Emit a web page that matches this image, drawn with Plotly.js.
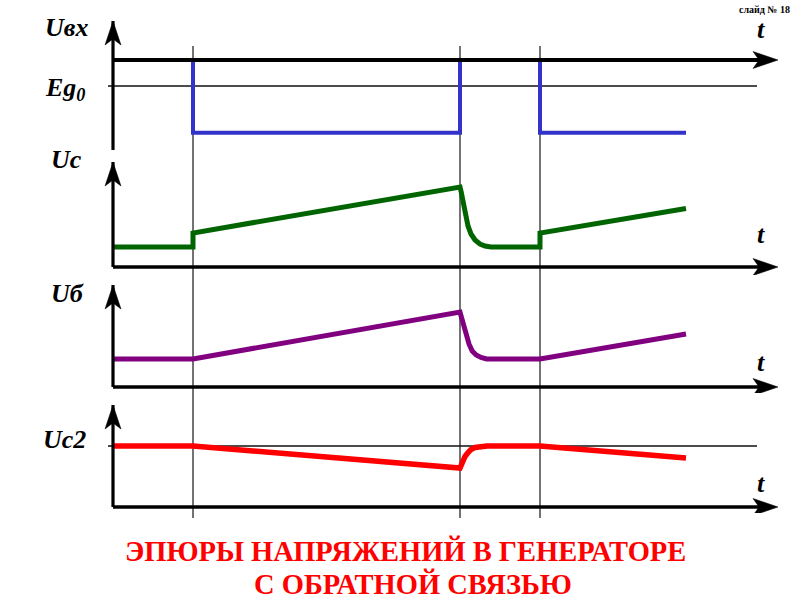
<!DOCTYPE html>
<html>
<head>
<meta charset="utf-8">
<script src="https://cdn.plot.ly/plotly-3.0.1.min.js"></script>
<style>
html,body{margin:0;padding:0;background:#fff;}
#chart{width:800px;height:600px;}
#chart text, #chart tspan { font-family: 'Liberation Serif' !important; }
</style>
</head>
<body>
<div id="chart"></div>
<script>
// ---- Data (time in arbitrary units, voltages in arbitrary units) ----
const edgeTimes = [2, 8.675, 10.675];
const tAxisEnd = 16.625;

// Input voltage Uвх (relative to t-axis level 0)
const tIn = [0, 2, 2, 8.675, 8.675, 10.675, 10.675, 14.325];
const uIn = [0, 0, -2.8, -2.8, 0, 0, -2.8, -2.8];
const eg0Level = -1.0;

// Uc (green)
const tUc = [0, 2, 2, 8.675, 8.7, 8.75, 8.8, 8.875, 8.95, 9.05, 9.175, 9.3, 9.45, 10.675, 10.675, 14.325];
const uC  = [2.0, 2.0, 3.4, 8.0, 7.6, 6.4, 5.2, 4.1, 3.3, 2.7, 2.3, 2.1, 2.0, 2.0, 3.4, 5.85];

// Uб (purple)
const tUb = [0, 2, 8.675, 8.72, 8.77, 8.83, 8.9, 8.98, 9.08, 9.2, 9.34, 10.675, 14.325];
const uB  = [2.8, 2.8, 7.5, 6.9, 6.0, 5.1, 4.3, 3.6, 3.2, 2.95, 2.8, 2.8, 5.3];

// Uc2 (red)
const tUc2 = [0, 2, 8.675, 8.7, 8.75, 8.8, 8.875, 8.95, 9.05, 9.2, 9.35, 10.675, 14.325];
const uC2  = [6.1, 6.1, 3.9, 4.2, 4.65, 5.05, 5.45, 5.75, 5.95, 6.07, 6.1, 6.1, 4.9];
const uc2RefLevel = 6.1;

// Axis extents per panel
const yTop = [1.5, 10.5, 10.2, 10.2];
const yBottom = [-3.46, 0, 0, 0];

const panelLabels = ['Uвх', 'Uc', 'Uб', 'Uc2'];
const titleLines = ['ЭПЮРЫ НАПРЯЖЕНИЙ В ГЕНЕРАТОРЕ', 'С ОБРАТНОЙ СВЯЗЬЮ'];
const slideNo = 'слайд № 18';

const SERIF = 'Liberation Serif';

// ---- Traces ----
const traces = [
  {x: tIn, y: uIn, xaxis: 'x', yaxis: 'y', mode: 'lines', line: {color: '#3333cc', width: 4}, hoverinfo: 'skip'},
  {x: tUc, y: uC, xaxis: 'x', yaxis: 'y2', mode: 'lines', line: {color: '#006400', width: 5}, hoverinfo: 'skip'},
  {x: tUb, y: uB, xaxis: 'x', yaxis: 'y3', mode: 'lines', line: {color: '#800080', width: 5}, hoverinfo: 'skip'},
  {x: tUc2, y: uC2, xaxis: 'x', yaxis: 'y4', mode: 'lines', line: {color: '#ff0000', width: 5.5}, hoverinfo: 'skip'}
];

// ---- Shapes ----
const shapes = [];
edgeTimes.forEach(t => shapes.push({type: 'line', xref: 'x', yref: 'paper', x0: t, x1: t, y0: 0.1367, y1: 0.9233, line: {color: '#444', width: 1.5}, layer: 'below'}));
shapes.push({type: 'line', xref: 'x', yref: 'y', x0: -0.125, x1: 16.1, y0: eg0Level, y1: eg0Level, line: {color: '#111', width: 1.5}, layer: 'below'});
shapes.push({type: 'line', xref: 'x', yref: 'y4', x0: -0.125, x1: 16.1, y0: uc2RefLevel, y1: uc2RefLevel, line: {color: '#111', width: 1.5}, layer: 'below'});

const yrefs = ['y', 'y2', 'y3', 'y4'];
yrefs.forEach((yr, i) => {
  const w = i === 0 ? 4 : 3.3;
  shapes.push({type: 'line', xref: 'x', yref: yr, x0: 0, x1: tAxisEnd - 0.4, y0: 0, y1: 0, line: {color: '#000', width: w}, layer: 'above'});
  shapes.push({type: 'path', xref: 'x', yref: yr, xsizemode: 'pixel', ysizemode: 'pixel', xanchor: tAxisEnd, yanchor: 0,
    path: 'M0,0 L-25,8.5 L-19,0 L-25,-8.5 Z', fillcolor: '#000', line: {color: '#000', width: 0.5}, layer: 'above'});
  shapes.push({type: 'line', xref: 'x', yref: yr, x0: 0, x1: 0, y0: yBottom[i], y1: yTop[i], line: {color: '#000', width: 3.2}, layer: 'above'});
  shapes.push({type: 'path', xref: 'x', yref: yr, xsizemode: 'pixel', ysizemode: 'pixel', xanchor: 0, yanchor: yTop[i],
    path: 'M0,0 L-8,-24 L0,-18 L8,-24 Z', fillcolor: '#000', line: {color: '#000', width: 0.5}, layer: 'above'});
});

// ---- Annotations (texts) ----
const ann = [];
const lblFont = {family: SERIF, size: 26, color: '#000'};
function px(x) { return x / 800; }
function py(y) { return 1 - y / 600; }
function label(text, x, y, anchor, font) {
  ann.push({xref: 'paper', yref: 'paper', x: px(x), y: py(y), xanchor: anchor || 'left', yanchor: 'middle',
    text: text, showarrow: false, font: font || lblFont});
}
label('<b><i>' + panelLabels[0] + '</i></b>', 43, 27);
label('<b><i>Eg<sub>0</sub></i></b>', 43, 89);
label('<b><i>' + panelLabels[1] + '</i></b>', 49, 159);
label('<b><i>' + panelLabels[2] + '</i></b>', 49, 293);
label('<b><i>' + panelLabels[3] + '</i></b>', 41, 439);
[29, 235, 362, 483].forEach(y => label('<b><i>t</i></b>', 761, y, 'center'));

const titleFont = {family: SERIF, size: 28.5, color: '#ff0000'};
label('<b>' + titleLines[0] + '</b>', 405, 551, 'center', titleFont);
label('<b>' + titleLines[1] + '</b>', 413, 584, 'center', titleFont);
label('<b>' + slideNo + '</b>', 764, 9, 'center', {family: SERIF, size: 10, color: '#000'});

const hidden = {visible: false, showgrid: false, zeroline: false, fixedrange: true};
const layout = {
  width: 800, height: 600,
  margin: {l: 0, r: 0, t: 0, b: 0},
  paper_bgcolor: '#fff', plot_bgcolor: 'rgba(0,0,0,0)',
  showlegend: false,
  xaxis: Object.assign({range: [-2.825, 17.175], domain: [0, 1]}, hidden),
  yaxis: Object.assign({domain: [0.75, 0.96667], range: [-3.4615, 1.5385], anchor: 'x'}, hidden),
  yaxis2: Object.assign({domain: [0.54167, 0.73667], range: [-0.8, 10.9], anchor: 'x'}, hidden),
  yaxis3: Object.assign({domain: [0.345, 0.53667], range: [-0.6, 10.9], anchor: 'x'}, hidden),
  yaxis4: Object.assign({domain: [0.145, 0.33667], range: [-0.6, 10.9], anchor: 'x'}, hidden),
  shapes: shapes,
  annotations: ann
};

Plotly.newPlot('chart', traces, layout, {staticPlot: true, displayModeBar: false});
</script>
</body>
</html>
